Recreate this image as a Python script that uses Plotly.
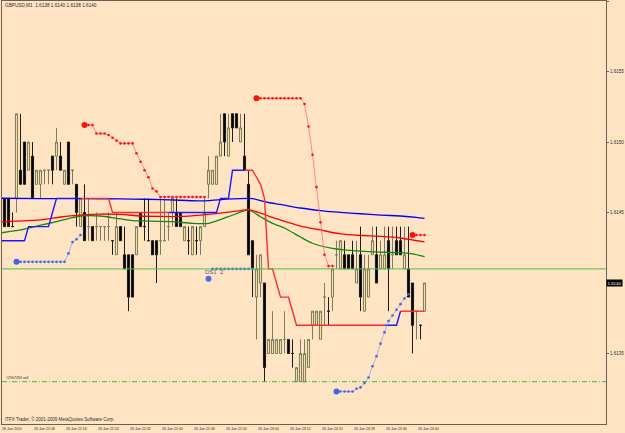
import plotly.graph_objects as go

# ---------------- data ----------------
bars = list(range(107))  # one-minute bars from 26 Jan 2010 22:00

opens = [1.6146,1.6146,1.6146,1.6144,1.6146,1.6148,1.6150,1.6148,1.6149,1.6147,
         1.6147,1.6148,1.6148,1.6149,1.6149,1.6149,1.6147,1.6150,1.6148,1.6147,
         1.6144,1.6145,1.6144,1.6144,1.6144,1.6144,1.6144,1.6144,1.6143,1.6142,
         1.6144,1.6142,1.6142,1.6142,1.6142,1.6145,1.6144,1.6143,1.6143,1.6143,
         1.6143,1.6143,1.6144,1.6145,1.6145,1.6145,1.6143,1.6143,1.6142,1.6143,
         1.6143,1.6144,1.6147,1.6147,1.6147,1.6149,1.6152,1.6149,1.6152,1.6152,
         1.6150,1.6149,1.6147,1.6143,1.6139,1.6140,1.6140,1.6135,1.6135,1.6135,
         1.6135,1.6136,1.6136,1.6135,1.6133,1.6133,1.6133,1.6134,1.6137,1.6137,
         1.6136,1.6139,1.6138,1.6139,1.6142,1.6141,1.6142,1.6142,1.6142,1.6140,
         1.6142,1.6138,1.6139,1.6142,1.6142,1.6141,1.6141,1.6143,1.6142,1.6143,
         1.6143,1.6141,1.6141,1.6140,1.6138,1.6137,1.6138]
highs = [1.6146,1.6146,1.6146,1.6145,1.6152,1.6152,1.6150,1.6150,1.6150,1.6148,
         1.6148,1.6148,1.6148,1.6149,1.6151,1.6150,1.6148,1.6150,1.6148,1.6147,
         1.6146,1.6147,1.6146,1.6144,1.6145,1.6144,1.6144,1.6145,1.6143,1.6145,
         1.6144,1.6144,1.6142,1.6142,1.6144,1.6145,1.6146,1.6146,1.6143,1.6143,
         1.6146,1.6146,1.6145,1.6146,1.6146,1.6145,1.6144,1.6144,1.6144,1.6144,
         1.6144,1.6146,1.6149,1.6148,1.6149,1.6152,1.6152,1.6152,1.6152,1.6152,
         1.6152,1.6152,1.6148,1.6143,1.6142,1.6142,1.6140,1.6136,1.6138,1.6136,
         1.6136,1.6138,1.6136,1.6136,1.6134,1.6136,1.6136,1.6136,1.6138,1.6138,
         1.6138,1.6140,1.6139,1.6141,1.6143,1.6143,1.6143,1.6142,1.6143,1.6143,
         1.6144,1.6142,1.6142,1.6144,1.6144,1.6143,1.6144,1.6144,1.6144,1.6144,
         1.6144,1.6144,1.6144,1.6140,1.6138,1.6137,1.6140]
lows = [1.6143,1.6144,1.6144,1.6144,1.6145,1.6147,1.6147,1.6148,1.6146,1.6147,
        1.6146,1.6147,1.6147,1.6147,1.6148,1.6148,1.6147,1.6147,1.6147,1.6144,
        1.6144,1.6143,1.6143,1.6143,1.6143,1.6143,1.6143,1.6143,1.6142,1.6142,
        1.6143,1.6141,1.6138,1.6139,1.6142,1.6144,1.6143,1.6143,1.6142,1.6140,
        1.6142,1.6143,1.6143,1.6144,1.6144,1.6144,1.6143,1.6142,1.6142,1.6142,
        1.6142,1.6144,1.6146,1.6147,1.6147,1.6149,1.6149,1.6149,1.6150,1.6151,
        1.6150,1.6148,1.6142,1.6139,1.6136,1.6139,1.6133,1.6135,1.6135,1.6135,
        1.6135,1.6135,1.6135,1.6134,1.6133,1.6133,1.6133,1.6134,1.6136,1.6137,
        1.6136,1.6137,1.6137,1.6138,1.6141,1.6141,1.6141,1.6141,1.6141,1.6140,
        1.6138,1.6138,1.6139,1.6142,1.6140,1.6141,1.6141,1.6138,1.6141,1.6142,
        1.6142,1.6141,1.6139,1.6135,1.6136,1.6136,1.6138]
closes = [1.6144,1.6144,1.6144,1.6144,1.6152,1.6147,1.6147,1.6150,1.6146,1.6148,
          1.6148,1.6148,1.6148,1.6148,1.6150,1.6148,1.6148,1.6147,1.6148,1.6145,
          1.6146,1.6143,1.6144,1.6143,1.6144,1.6144,1.6144,1.6144,1.6143,1.6144,
          1.6143,1.6141,1.6139,1.6139,1.6144,1.6144,1.6144,1.6143,1.6142,1.6142,
          1.6143,1.6143,1.6144,1.6146,1.6144,1.6144,1.6144,1.6143,1.6144,1.6143,
          1.6144,1.6145,1.6148,1.6148,1.6149,1.6150,1.6150,1.6151,1.6151,1.6151,
          1.6151,1.6148,1.6142,1.6141,1.6141,1.6142,1.6134,1.6136,1.6136,1.6136,
          1.6136,1.6136,1.6135,1.6135,1.6134,1.6135,1.6135,1.6136,1.6138,1.6138,
          1.6138,1.6139,1.6138,1.6141,1.6142,1.6143,1.6141,1.6141,1.6141,1.6141,
          1.6139,1.6141,1.6141,1.6143,1.6140,1.6142,1.6142,1.6141,1.6142,1.6142,
          1.6142,1.6142,1.6139,1.6137,1.6138,1.6137,1.6140]

# moving averages (vertices)
ma_blue_bars = [0, 10, 20, 30, 36, 45, 50, 55, 60, 63, 65, 67, 70, 75, 80, 85, 90, 95, 100, 104, 106]
ma_blue = [1.614601, 1.614599, 1.614599, 1.614596, 1.614594, 1.614587, 1.614582, 1.614592, 1.614599,
           1.614599, 1.614585, 1.614571, 1.614557, 1.614532, 1.614514, 1.614501, 1.614491, 1.614482,
           1.614475, 1.614466, 1.614459]
ma_red_bars = [0, 10, 15, 20, 25, 30, 35, 40, 45, 50, 55, 60, 62, 65, 67, 70, 75, 80, 85, 90, 95, 100, 103, 106]
ma_red = [1.614433, 1.614447, 1.614468, 1.614482, 1.614489, 1.614486, 1.614475, 1.614472, 1.614472,
          1.614482, 1.614496, 1.614514, 1.614521, 1.614496, 1.614475, 1.614447, 1.614404, 1.614376,
          1.614348, 1.614337, 1.614330, 1.614319, 1.614305, 1.614291]
ma_green_bars = [0, 5, 8, 12, 17, 20, 25, 29, 33, 36, 43, 48, 52, 57, 62, 65, 68, 71, 75, 78, 83, 92, 100, 103, 106]
ma_green = [1.614355, 1.614376, 1.614397, 1.614422, 1.614457, 1.614475, 1.614475, 1.614459, 1.614442,
            1.614440, 1.614435, 1.614423, 1.614423, 1.614470, 1.614518, 1.614470, 1.614423, 1.614390,
            1.614326, 1.614282, 1.614246, 1.614222, 1.614215, 1.614206, 1.614187]

# trailing stop line (one value per bar) and its trend segments
stop_line = [1.6143, 1.6143, 1.6143, 1.6143, 1.6143, 1.6143, 1.6143,
             1.6144, 1.6144, 1.6144, 1.6144, 1.6144, 1.6144,
             1.6145,
             1.6146, 1.6146, 1.6146, 1.6146, 1.6146, 1.6146, 1.6146,
             1.6146, 1.6146, 1.6146, 1.6146, 1.6146, 1.6146, 1.6146,
             1.6145, 1.6145, 1.6145, 1.6145, 1.6145, 1.6145, 1.6145, 1.6145, 1.6145,
             1.6145, 1.6145, 1.6145, 1.6145, 1.6145, 1.6145, 1.6145, 1.6145, 1.6145,
             1.6145, 1.6145, 1.6145, 1.6145, 1.6145, 1.6145, 1.6145, 1.6145, 1.6145,
             1.6146, 1.6146, 1.6146,
             1.6148, 1.6148, 1.6148, 1.6148, 1.6148, 1.6148,
             1.61475, 1.6147, 1.6146,
             1.6141, 1.6141, 1.6140, 1.6139, 1.6139, 1.6139, 1.6138,
             1.6137, 1.6137, 1.6137, 1.6137, 1.6137, 1.6137, 1.6137, 1.6137, 1.6137,
             1.6137, 1.6137, 1.6137, 1.6137, 1.6137, 1.6137, 1.6137, 1.6137, 1.6137,
             1.6137, 1.6137, 1.6137, 1.6137, 1.6137, 1.6137, 1.6137, 1.6137,
             1.6138, 1.6138, 1.6138, 1.6138, 1.6138, 1.6138, 1.6138]
stop_up_segments = [(0, 20), (42, 61), (96, 100)]
stop_down_segments = [(20, 42), (61, 96), (100, 106)]

# parabolic SAR runs
sar_red_1_bars = list(range(21, 52))
sar_red_1 = [1.61512, 1.61512, 1.61512, 1.61506, 1.61506, 1.61506, 1.61505, 1.61503, 1.61501,
             1.61499, 1.61499, 1.61499, 1.61499, 1.61492, 1.61486, 1.61480, 1.61475, 1.61467,
             1.61465, 1.61461, 1.61461, 1.61461, 1.61461, 1.61461, 1.61461, 1.61461, 1.61461,
             1.61461, 1.61461, 1.61461, 1.61461]
sar_red_2_bars = list(range(64, 84))
sar_red_2 = [1.61531, 1.61531, 1.61531, 1.61531, 1.61531, 1.61531, 1.61531, 1.61531, 1.61531,
             1.61531, 1.61531, 1.61531, 1.61527, 1.61511, 1.61491, 1.61468, 1.61443, 1.61420,
             1.61412, 1.61412]
sar_red_3_bars = list(range(103, 107))
sar_red_3 = [1.61434, 1.61434, 1.61434, 1.61434]
sar_blue_1_bars = list(range(4, 21))
sar_blue_1 = [1.61415, 1.61415, 1.61415, 1.61415, 1.61415, 1.61415, 1.61415, 1.61415, 1.61415,
              1.61415, 1.61415, 1.61415, 1.61415, 1.61421, 1.61429, 1.61431, 1.61434]
sar_blue_2_bars = list(range(53, 64))
sar_blue_2 = [1.61410, 1.61410, 1.61410, 1.61410, 1.61410, 1.61410, 1.61410, 1.61410, 1.61410,
              1.61410, 1.61410]
sar_blue_3_bars = list(range(84, 103))
sar_blue_3 = [1.61323, 1.61323, 1.61323, 1.61323, 1.61323, 1.61325, 1.61326, 1.61329, 1.61333,
              1.61341, 1.61348, 1.61357, 1.61365, 1.61373, 1.61377, 1.61381, 1.61385, 1.61389, 1.61392]

ds1_bar, ds1_price = 52, 1.61403
hline_price = 1.6141
order_price = 1.6133
bid_price = 1.6140

tick_bars = [0, 8, 16, 24, 32, 40, 48, 56, 64, 72, 80, 88, 96, 104]
tick_text = ["26 Jan 2010", "26 Jan 22:08", "26 Jan 22:16", "26 Jan 22:24", "26 Jan 22:32",
             "26 Jan 22:40", "26 Jan 22:48", "26 Jan 22:56", "26 Jan 23:04", "26 Jan 23:12",
             "26 Jan 23:20", "26 Jan 23:28", "26 Jan 23:36", "26 Jan 23:44"]
y_tick_vals = [1.6135, 1.6145, 1.6150, 1.6155, 1.6160]
y_tick_text = ["1.6135", "1.6145", "1.6150", "1.6155", "1.6160"]

title_text = "GBPUSD,M1  1.6138 1.6140 1.6138 1.6140"
footer_text = "ITFX Trader, \u00a9 2001-2009 MetaQuotes Software Corp."
order_text = "#2907263 sell"

# ---------------- figure ----------------
BG = "#FFE4C4"
FONT = "Liberation Sans"
TXT = "#2b2b2b"
X_START = 0.375

fig = go.Figure()

fig.add_trace(go.Candlestick(
    x=bars, open=opens, high=highs, low=lows, close=closes,
    increasing=dict(line=dict(color="#7d7a62", width=1), fillcolor="#EFE39A"),
    decreasing=dict(line=dict(color="#1c1c1c", width=1), fillcolor="#000000"),
    whiskerwidth=0, hoverinfo="skip"))

for xs, ys, col in [(ma_green_bars, ma_green, "#118811"),
                    (ma_red_bars, ma_red, "#ff0000"),
                    (ma_blue_bars, ma_blue, "#0000ff")]:
    fig.add_trace(go.Scatter(x=xs, y=ys, mode="lines",
                             line=dict(color=col, width=1.3, shape="spline", smoothing=0.6),
                             hoverinfo="skip"))

for a, b in stop_down_segments:
    fig.add_trace(go.Scatter(x=bars[a:b + 1], y=stop_line[a:b + 1], mode="lines",
                             line=dict(color="#ff2a2a", width=1.4), hoverinfo="skip"))
for a, b in stop_up_segments:
    fig.add_trace(go.Scatter(x=bars[a:b + 1], y=stop_line[a:b + 1], mode="lines",
                             line=dict(color="#1a1aff", width=1.4), hoverinfo="skip"))

def add_sar(xs, ys, dot, line):
    fig.add_trace(go.Scatter(x=xs, y=ys, mode="lines+markers",
                             line=dict(color=line, width=0.8),
                             marker=dict(color=dot, size=2.6),
                             hoverinfo="skip"))
    fig.add_trace(go.Scatter(x=xs[:1], y=ys[:1], mode="markers",
                             marker=dict(color=dot, size=6), hoverinfo="skip"))

add_sar(sar_red_1_bars, sar_red_1, "#ff1010", "#ff7070")
add_sar(sar_red_2_bars, sar_red_2, "#ff1010", "#ff7070")
add_sar(sar_red_3_bars, sar_red_3, "#ff1010", "#ff7070")
add_sar(sar_blue_1_bars, sar_blue_1, "#3f68e0", "#90a4e8")
add_sar(sar_blue_3_bars, sar_blue_3, "#3f68e0", "#90a4e8")
fig.add_trace(go.Scatter(x=sar_blue_2_bars, y=sar_blue_2, mode="lines+markers",
                         line=dict(color="#90a4e8", width=0.8),
                         marker=dict(color="#3f68e0", size=2.6), hoverinfo="skip"))
fig.add_trace(go.Scatter(x=[ds1_bar], y=[ds1_price], mode="markers",
                         marker=dict(color="#4a6fe0", size=6), hoverinfo="skip"))

# horizontal lines
fig.add_shape(type="line", xref="paper", x0=0, x1=1, yref="y", y0=hline_price, y1=hline_price,
              line=dict(color="#4cc04c", width=1), layer="above")
fig.add_shape(type="line", xref="paper", x0=0, x1=1, yref="y", y0=order_price, y1=order_price,
              line=dict(color="#3fb83f", width=1, dash="5px,2px,1px,2px"), layer="above")

ann = []
for b, t in zip(tick_bars, tick_text):
    if b < X_START:
        pos = dict(x=0, xref="paper", xshift=-2)
    else:
        pos = dict(x=b, xref="x", xshift=-1)
    ann.append(dict(**pos, y=0, yref="paper", yshift=-5, text=t, showarrow=False,
                    xanchor="left", yanchor="middle",
                    font=dict(family=FONT, size=3.6, color=TXT)))
ann.append(dict(x=0.002, xref="paper", y=0.990, yref="paper", text=title_text, showarrow=False,
                xanchor="left", yanchor="middle", font=dict(family=FONT, size=4.7, color=TXT)))
ann.append(dict(x=0.002, xref="paper", y=0.012, yref="paper", text=footer_text, showarrow=False,
                xanchor="left", yanchor="middle", font=dict(family=FONT, size=4.5, color=TXT)))
ann.append(dict(x=0.004, xref="paper", y=order_price, yref="y", yshift=4, text=order_text,
                showarrow=False, xanchor="left", yanchor="middle",
                font=dict(family=FONT, size=3.6, color=TXT)))
ann.append(dict(x=ds1_bar, xref="x", y=ds1_price, yref="y", yshift=7, xshift=-6,
                text="DS1 &nbsp;2", showarrow=False, xanchor="left", yanchor="middle",
                font=dict(family=FONT, size=6, color="#5b5b80")))
ann.append(dict(x=1, xref="paper", y=bid_price, yref="y", text="1.6140", showarrow=False,
                xanchor="left", yanchor="middle", bgcolor="#000000", borderpad=0.5,
                font=dict(family=FONT, size=4.4, color="#ffffff")))

fig.update_layout(
    width=625, height=433,
    margin=dict(l=2, r=19, t=1, b=9),
    paper_bgcolor=BG, plot_bgcolor=BG,
    showlegend=False, hovermode=False,
    annotations=ann,
    xaxis=dict(range=[X_START, 151.375], showgrid=False, zeroline=False, showticklabels=False,
               showline=True, mirror=True, linecolor="#6d604f", linewidth=1,
               rangeslider=dict(visible=False), ticks=""),
    yaxis=dict(range=[1.6130, 1.6160], side="right", tickvals=y_tick_vals, ticktext=y_tick_text,
               ticks="outside", ticklen=2, tickcolor="#6d604f", showgrid=False, zeroline=False,
               showline=True, mirror=True, linecolor="#6d604f", linewidth=1,
               tickfont=dict(family=FONT, size=4.5, color=TXT)),
    boxgap=0.25,
)

fig.write_html("out.html")
